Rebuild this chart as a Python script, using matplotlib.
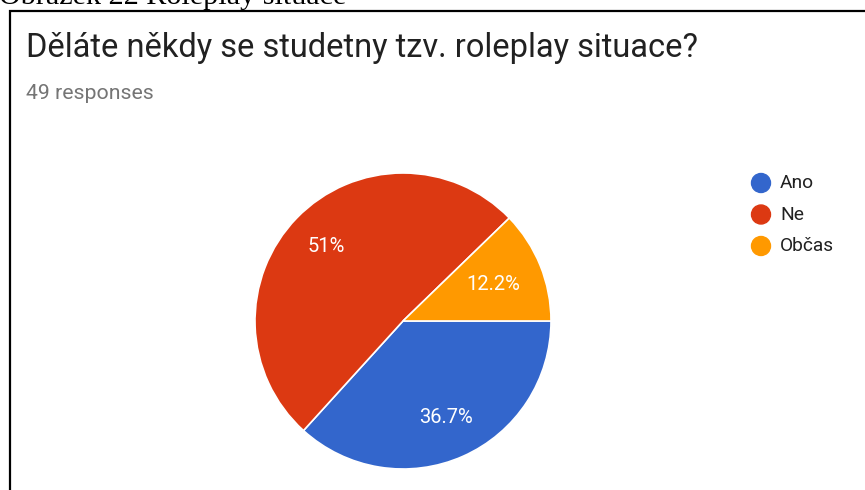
import numpy as np
import matplotlib.pyplot as plt
from matplotlib.patches import Rectangle, Ellipse

labels = ["Ano", "Ne", "Občas"]
counts = [18, 25, 6]
percents = ["36.7%", "51%", "12.2%"]
colors = ["#3366CC", "#DC3912", "#FF9900"]

W, H = 865, 490
fig = plt.figure(figsize=(W / 100, H / 100), dpi=100)
fig.patch.set_facecolor("white")


def fx(px):
    return px / W


def fy(py):
    return 1 - py / H


# document caption cut off at the top edge
fig.text(fx(-1), fy(4), "Obrázek 22 Roleplay situace", family="Liberation Serif",
         fontsize=21.7, va="baseline", ha="left", color="black")

# card border
fig.patches.append(Rectangle((fx(10), fy(600)), fx(1000), fy(11) - fy(600),
                             transform=fig.transFigure, fill=False,
                             edgecolor="black", linewidth=1.6))

fig.text(fx(26), fy(57), "Děláte někdy se studetny tzv. roleplay situace?",
         family="Roboto", fontsize=23.5, va="baseline", ha="left", color="#212121")
fig.text(fx(26), fy(99), "49 responses", family="Roboto", fontsize=15.3,
         va="baseline", ha="left", color="#757575")

# pie
cx, cy, r = 403, 321, 148
ax = fig.add_axes([fx(cx - r), fy(cy + r), fx(2 * r), fy(cy - r) - fy(cy + r)])
wedges, _ = ax.pie(counts, colors=colors, startangle=0, counterclock=False,
                   wedgeprops=dict(edgecolor="white", linewidth=1.2))
ax.set_xlim(-1, 1)
ax.set_ylim(-1, 1)
ax.axis("off")

total = sum(counts)
start = 0.0
dists = [0.71, 0.72, 0.66]
for c, p, d in zip(counts, percents, dists):
    ang = np.deg2rad(start - 360 * c / total / 2)
    start -= 360 * c / total
    ax.text(d * np.cos(ang), d * np.sin(ang), p, ha="center", va="center",
            color="white", fontsize=14.5, family="Roboto")

# legend
for i, (lab, col) in enumerate(zip(labels, colors)):
    y = 183 + i * 31.5
    fig.patches.append(Ellipse((fx(761), fy(y)), 19 / W, 19 / H,
                               transform=fig.transFigure, color=col))
    fig.text(fx(780), fy(y), lab, family="Roboto", fontsize=13.8,
             va="center", ha="left", color="#212121")

fig.savefig("out.png", dpi=100)
